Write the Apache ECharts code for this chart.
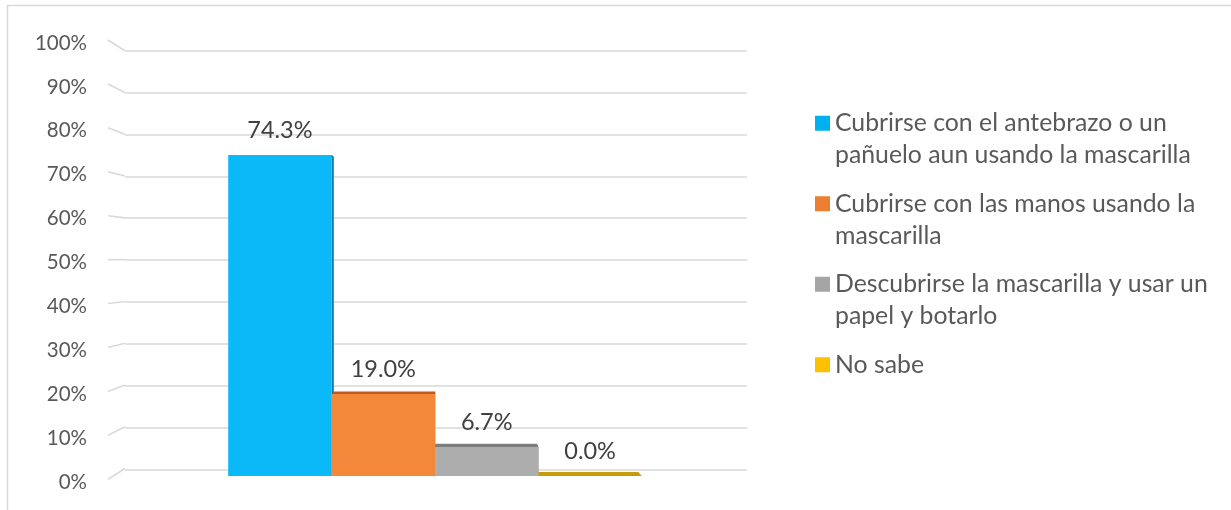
<!DOCTYPE html>
<html>
<head>
<meta charset="utf-8">
<style>
  html, body { margin: 0; padding: 0; background: #ffffff; }
  #chart { width: 1231px; height: 510px; }
</style>
<script src="https://cdn.jsdelivr.net/npm/echarts@6/dist/echarts.min.js"></script>
</head>
<body>
<div id="chart"></div>
<script>
// Answers and their shares (%)
const CATEGORIES = [
  'Cubrirse con el antebrazo o un\npañuelo aun usando la mascarilla',
  'Cubrirse con las manos usando la\nmascarilla',
  'Descubrirse la mascarilla y usar un\npapel y botarlo',
  'No sabe'
];
const VALUES = [74.3, 19.0, 6.7, 0.0];

// Value axis ticks (%)
const Y_MIN = 0;
const Y_MAX = 100;
const Y_STEP = 10;
const TICKS = [0, 10, 20, 30, 40, 50, 60, 70, 80, 90, 100];

// Colours: front faces, top faces, side faces, legend keys
const FRONT = ['#0bb9f8', '#f3873a', '#adadad', '#ffc000'];
const TOP = ['#0a86b8', '#c2581f', '#7d7d7d', '#c99b08'];
const SIDE = ['#0d78a8', '#b8531d', '#7a7a7a', '#b88d06'];
const KEY = ['#00b0f0', '#ed7d31', '#a5a5a5', '#ffc000'];

// Perspective set-up for the pseudo-3D look
const VX = 452;             // horizontal position of the vanishing point
const WALL_DEPTH = 0.951;   // back wall scale relative to the front edge
const BAR_DEPTH = 0.9817;   // bar back face scale relative to the bar front
const BAR_W = 103.4;

const FONT = 'Lato, "Open Sans", sans-serif';
const LINE_H = 31.7;
const GRID_COLOR = '#d9d9d9';

const chart = echarts.init(document.getElementById('chart'), null, { renderer: 'canvas' });

function toward(vp, k, x, y) {
  return [vp[0] + k * (x - vp[0]), vp[1] + k * (y - vp[1])];
}

// Slanted segments joining the front edge ticks to the back wall gridlines
function renderDiagonals(params, api) {
  const v = api.value(1);
  const p = api.coord([0, v]);
  const vp = [VX, api.coord([0, (Y_MIN + Y_MAX) / 2])[1]];
  const b = toward(vp, WALL_DEPTH, p[0], p[1]);
  return {
    type: 'line',
    shape: { x1: p[0], y1: p[1], x2: b[0], y2: b[1] },
    style: { stroke: GRID_COLOR, lineWidth: 1.6 }
  };
}

// Top and side faces of each bar, drawn behind the front faces
function renderFaces(params, api) {
  const v = api.value(1);
  const i = api.value(2);
  const top = api.coord([0, v]);
  const base = api.coord([0, 0]);
  const vp = [VX, api.coord([0, (Y_MIN + Y_MAX) / 2])[1]];
  const cx = top[0] + (i - (VALUES.length - 1) / 2) * BAR_W;
  const x0 = cx - BAR_W / 2, x1 = cx + BAR_W / 2;
  const yT = top[1], yB = base[1];
  const P = (x, y) => toward(vp, BAR_DEPTH, x, y);
  return {
    type: 'group',
    children: [
      {
        type: 'polygon',
        shape: { points: [[x1, yT], [x1, yB], P(x1, yB), P(x1, yT)] },
        style: { fill: SIDE[i] }
      },
      {
        type: 'polygon',
        shape: { points: [[x0, yT], [x1, yT], P(x1, yT), P(x0, yT)] },
        style: { fill: TOP[i] }
      }
    ]
  };
}

const barSeries = CATEGORIES.map((name, i) => ({
  name: name,
  type: 'bar',
  xAxisIndex: 1,
  yAxisIndex: 1,
  data: [VALUES[i]],
  barWidth: BAR_W,
  barGap: '0%',
  z: 3,
  itemStyle: { color: FRONT[i] },
  label: {
    show: true,
    position: 'top',
    distance: 13,
    fontFamily: FONT,
    fontSize: 23.5,
    lineHeight: 23,
    color: '#404040',
    formatter: p => p.value.toFixed(1) + '%'
  }
}));

const option = {
  backgroundColor: '#ffffff',
  animation: false,
  graphic: [{
    type: 'rect',
    shape: { x: 7.5, y: 5.5, width: 1400, height: 700 },
    style: { fill: 'none', stroke: GRID_COLOR, lineWidth: 1.5 },
    silent: true,
    z: -1
  }],
  legend: {
    orient: 'vertical',
    left: 815,
    top: 107.5,
    padding: 0,
    itemWidth: 15,
    itemHeight: 46.7,
    itemGap: 17.1,
    icon: 'path://M0,0H15V15H0Z M0,46.69H0.01V46.7H0Z',
    data: CATEGORIES.map((name, i) => ({ name: name, itemStyle: { color: KEY[i] } })),
    formatter: name => (name.indexOf('\n') >= 0 ? name : name + '\n'),
    textStyle: {
      fontFamily: FONT,
      fontSize: 24.8,
      lineHeight: LINE_H,
      color: '#595959'
    }
  },
  grid: [
    // back wall with the horizontal gridlines
    { left: 125, width: 622, top: 50.7, height: 418.6 },
    // bars
    { left: 124, width: 622, top: 44, height: 432 },
    // front edge carrying the tick labels
    { left: 108, width: 17, top: 40, height: 439.3 }
  ],
  xAxis: [
    { gridIndex: 0, type: 'category', data: [''], show: false },
    { gridIndex: 1, type: 'category', data: [''], show: false },
    { gridIndex: 2, type: 'value', min: 0, max: 1, show: false }
  ],
  yAxis: [
    {
      gridIndex: 0, type: 'value', min: Y_MIN, max: Y_MAX, interval: Y_STEP,
      axisLine: { show: false }, axisTick: { show: false }, axisLabel: { show: false },
      splitLine: { show: true, lineStyle: { color: GRID_COLOR, width: 1.6 } }
    },
    {
      gridIndex: 1, type: 'value', min: Y_MIN, max: Y_MAX, interval: Y_STEP,
      show: false, splitLine: { show: false }
    },
    {
      gridIndex: 2, type: 'value', min: Y_MIN, max: Y_MAX, interval: Y_STEP,
      axisLine: { show: false }, axisTick: { show: false },
      splitLine: { show: false },
      axisLabel: {
        margin: 21,
        fontFamily: FONT,
        fontSize: 20.5,
        color: '#595959',
        verticalAlign: 'top',
        lineHeight: 20,
        padding: [-7, 0, 0, 0],
        formatter: '{value}%'
      }
    }
  ],
  series: [
    {
      type: 'custom',
      name: 'diagonals',
      xAxisIndex: 2,
      yAxisIndex: 2,
      silent: true,
      z: 1,
      renderItem: renderDiagonals,
      data: TICKS.map(v => [0, v]),
      encode: { x: 0, y: 1 }
    },
    {
      type: 'custom',
      name: 'faces',
      xAxisIndex: 1,
      yAxisIndex: 1,
      silent: true,
      z: 2,
      renderItem: renderFaces,
      data: VALUES.map((v, i) => [0, v, i]),
      encode: { x: 0, y: 1 }
    }
  ].concat(barSeries)
};

chart.setOption(option);
</script>
</body>
</html>
